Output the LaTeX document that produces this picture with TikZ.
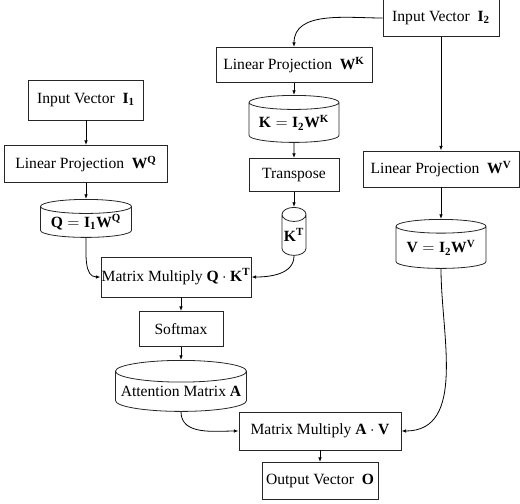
\documentclass[tikz,border=0pt]{standalone}
\usepackage{fontspec}
\setmainfont{Liberation Serif}
\usetikzlibrary{shapes.geometric,arrows.meta}
\newcommand{\mb}[1]{\mathbf{#1}}
\begin{document}
\begin{tikzpicture}[x=0.75pt,y=-0.75pt,
  font=\fontsize{11.7}{14}\selectfont,
  sz/.style 2 args={minimum width=#1*0.75pt, minimum height=#2*0.75pt},
  box/.style={draw=black!85, line width=0.6pt, rectangle, inner sep=0pt},
  cyl/.style={draw=black!85, line width=0.6pt, cylinder, shape border rotate=90, inner sep=0pt, aspect=0.2, anchor=north},
  arr/.style={-{Latex[length=3.5pt,width=2.6pt]}, line width=0.6pt}]
\useasboundingbox (0,0) rectangle (520,503);
\node [box, sz={115}{40}] (in1) at (86,100) {Input Vector~~$\mb{I}_{\mb{1}}$};
\node [box, sz={163}{37}] (wq) at (86,164) {Linear Projection~~$\mb{W}^{\mb{Q}}$};
\node [cyl, sz={91}{38}] (q) at (86,199) {$\mb{Q}=\mb{I}_{\mb{1}}\mb{W}^{\mb{Q}}$};
\node [box, sz={150}{40}] (mmqk) at (176,277) {Matrix Multiply $\mb{Q}\cdot\mb{K}^{\mb{T}}$};
\node [box, sz={84}{35}] (soft) at (181,329) {Softmax};
\node [cyl, sz={131}{51}, aspect=0.18] (att) at (181,360) {Attention Matrix $\mb{A}$};
\node [box, sz={162}{38}] (mmav) at (320,431) {Matrix Multiply $\mb{A}\cdot\mb{V}$};
\node [box, sz={116}{37}] (out) at (320,481) {Output Vector~~$\mb{O}$};
\node [box, sz={116}{37}] (in2) at (441,18) {Input Vector~~$\mb{I}_{\mb{2}}$};
\node [box, sz={156}{35}] (wk) at (294,65) {Linear Projection~~$\mb{W}^{\mb{K}}$};
\node [cyl, sz={90}{47}] (k) at (294,95) {$\mb{K}=\mb{I}_{\mb{2}}\mb{W}^{\mb{K}}$};
\node [box, sz={90}{33}] (tr) at (294,175) {Transpose};
\node [cyl, sz={24}{48}, aspect=0.7] (kt) at (294,207) {$\mb{K}^{\mb{T}}$};
\node [box, sz={156}{36}] (wv) at (441,169) {Linear Projection~~$\mb{W}^{\mb{V}}$};
\node [cyl, sz={90}{49}] (v) at (441,219) {$\mb{V}=\mb{I}_{\mb{2}}\mb{W}^{\mb{V}}$};
\draw [arr] (in1) -- (wq);
\draw [arr] (wq) -- (q);
\draw [arr] (q.south) to[out=-90,in=180] (mmqk.west);
\draw [arr] (soft.north |- mmqk.south) -- (soft.north);
\draw [arr] (soft) -- (att);
\draw [arr] (att.south) to[out=-90,in=180] (mmav.west);
\draw [arr] (mmav) -- (out);
\draw [arr] (in2.west) to[out=180,in=90] (wk.north);
\draw [arr] (wk) -- (k);
\draw [arr] (k) -- (tr);
\draw [arr] (tr) -- (kt);
\draw [arr] (kt.south) to[out=-90,in=0] (mmqk.east);
\draw [arr] (in2) -- (wv);
\draw [arr] (wv) -- (v);
\draw [arr] (v.south) to[out=-90,in=0] (mmav.east);
\end{tikzpicture}
\end{document}
